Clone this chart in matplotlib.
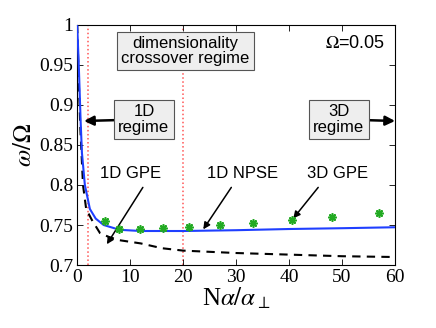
import numpy as np
import matplotlib.pyplot as plt

# ---- data ----
x_npse = [0.0, 0.3, 0.65, 0.9, 1.45, 2.4, 3.5, 5.0, 8.0, 12.0, 20.0, 30.0, 40.0, 50.0, 60.0]
y_npse = [1.0, 0.95, 0.88, 0.84, 0.80, 0.77, 0.758, 0.75, 0.744, 0.7425, 0.7425, 0.7435, 0.745, 0.746, 0.7472]

x_gpe1d = [0.0, 0.3, 0.6, 1.1, 1.7, 2.8, 4.3, 6.0, 8.0, 12.0, 16.0, 20.0, 30.0, 40.0, 50.0, 60.0]
y_gpe1d = [1.0, 0.93, 0.87, 0.80, 0.77, 0.756, 0.740, 0.735, 0.731, 0.727, 0.721, 0.718, 0.715, 0.713, 0.711, 0.710]

x_gpe3d = [5.3, 7.9, 11.9, 16.2, 21.2, 27.0, 33.1, 40.6, 48.1, 57.0]
y_gpe3d = [0.755, 0.745, 0.745, 0.746, 0.748, 0.750, 0.753, 0.756, 0.760, 0.765]

crossover_x = [2.1, 20.0]

plt.rcParams['font.family'] = 'serif'
plt.rcParams['font.serif'] = ['Liberation Serif', 'DejaVu Serif']
plt.rcParams['mathtext.fontset'] = 'stix'
sans = 'Liberation Sans'

fig = plt.figure(figsize=(4.36, 3.28), dpi=100)
ax = fig.add_axes([0.177, 0.192, 0.729, 0.732])

for xc in crossover_x:
    ax.axvline(xc, color='#ff5555', linestyle=':', linewidth=1.1, zorder=1)

ax.plot(x_gpe1d, y_gpe1d, color='black', linestyle=(0, (4, 3)), linewidth=1.5, zorder=2)
ax.plot(x_npse, y_npse, color='#1f3fff', linewidth=1.5, zorder=3)
ax.plot(x_gpe3d, y_gpe3d, linestyle='none', marker=(8, 2, 0), markersize=6,
        color='#22aa22', markeredgewidth=1.2, zorder=4)

ax.set_xlim(0, 60)
ax.set_ylim(0.7, 1.0)
ax.set_xticks([0, 10, 20, 30, 40, 50, 60])
ax.set_yticks([0.7, 0.75, 0.8, 0.85, 0.9, 0.95, 1.0])
ax.set_yticklabels(['0.7', '0.75', '0.8', '0.85', '0.9', '0.95', '1'])
ax.tick_params(direction='in', top=True, right=True, length=4, width=0.6, pad=3,
               labelsize=14)
for sp in ax.spines.values():
    sp.set_linewidth(0.8)

ax.set_xlabel(r'N$\alpha/\alpha_{\perp}$', fontsize=18, labelpad=0)
ax.set_ylabel(r'$\omega/\Omega$', fontsize=18, labelpad=2)

box = dict(boxstyle='square,pad=0.25', facecolor='#eeeeee', edgecolor='#555555', linewidth=0.8)

ax.text(20.4, 0.9675, 'dimensionality\ncrossover regime', ha='center', va='center',
        fontsize=12, family=sans, bbox=box, linespacing=1.0)
ax.text(58.2, 0.977, r'$\Omega$=0.05', ha='right', va='center', fontsize=13, family=sans)

# regime boxes with arrows to the edges
ax.annotate('1D\nregime', xy=(1.3, 0.88), xytext=(12.6, 0.882), ha='center', va='center',
            fontsize=12, family=sans, bbox=box, linespacing=1.05,
            arrowprops=dict(arrowstyle='-|>', color='black', lw=1.8, mutation_scale=14,
                            shrinkA=0, shrinkB=0))
ax.annotate('3D\nregime', xy=(60, 0.88), xytext=(49.4, 0.882), ha='center', va='center',
            fontsize=12, family=sans, bbox=box, linespacing=1.05,
            arrowprops=dict(arrowstyle='-|>', color='black', lw=1.8, mutation_scale=14,
                            shrinkA=0, shrinkB=0))

# curve labels
arr = dict(arrowstyle='-|>', color='black', lw=1.1, mutation_scale=10, shrinkA=0, shrinkB=0)
ax.text(10.0, 0.814, '1D GPE', ha='center', va='center', fontsize=12, family=sans)
ax.annotate('', xy=(5.6, 0.726), xytext=(12.4, 0.797), arrowprops=arr)
ax.text(31.3, 0.814, '1D NPSE', ha='center', va='center', fontsize=12, family=sans)
ax.annotate('', xy=(23.8, 0.7446), xytext=(29.1, 0.797), arrowprops=arr)
ax.text(49.2, 0.814, '3D GPE', ha='center', va='center', fontsize=12, family=sans)
ax.annotate('', xy=(40.8, 0.7583), xytext=(45.5, 0.797), arrowprops=arr)

fig.savefig('out.png', dpi=100)
